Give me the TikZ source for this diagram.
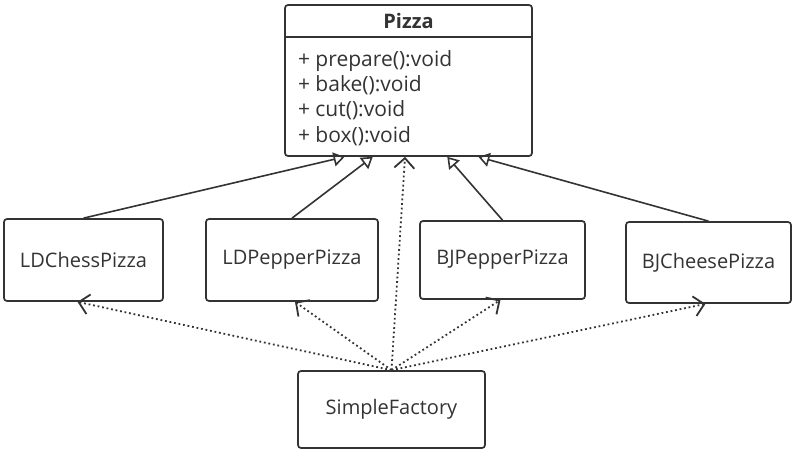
\documentclass[tikz,border=0pt]{standalone}
\usepackage{fontspec}
\setmainfont{Open Sans}
\usetikzlibrary{calc}
\usetikzlibrary{arrows.meta}

\begin{document}
\begin{tikzpicture}[x=1pt, y=-1pt,
  every node/.style={font=\fontsize{20}{25}\selectfont, text=black!80},
  box/.style={draw=black!80, line width=1.7pt, rounded corners=3pt, fill=white},
  inherit/.style={draw=black!80, line width=1.6pt, -{Triangle[open, length=11pt, width=14pt]}},
  depend/.style={draw=black!80, line width=1.8pt, dash pattern=on 1.8pt off 2.8pt, -{Straight Barb[length=10pt, width=20pt]}}]
\useasboundingbox (0,0) rectangle (798,457);

\node[box, minimum width=247pt, minimum height=151pt] (pizza) at (408.5,80.5) {};
\node[font=\fontsize{20}{25}\selectfont\bfseries] (title) at (408.5,21.5) {Pizza};
\draw[black!80, line width=1.7pt] ([yshift=-33pt]pizza.north west) -- ([yshift=-33pt]pizza.north east);
\node[anchor=west, align=left, font=\fontsize{21}{25.3}\selectfont] (ops) at (294.5,98) {+ prepare():void\\+ bake():void\\+ cut():void\\+ box():void};

\node[box, minimum width=159pt, minimum height=82pt] (ldChess) at (83.5,260) {LDChessPizza};
\node[box, minimum width=172pt, minimum height=82pt] (ldPepper) at (292,260) {LDPepperPizza};
\node[box, minimum width=165pt, minimum height=78pt] (bjPepper) at (502.5,260) {BJPepperPizza};
\node[box, minimum width=165pt, minimum height=81pt] (bjCheese) at (708.5,262.5) {BJCheesePizza};
\node[box, minimum width=187pt, minimum height=77pt] (factory) at (391.5,409.5) {SimpleFactory};

\foreach \sub/\pos in {ldChess/0.243, ldPepper/0.356, bjPepper/0.656, bjCheese/0.781}
  \draw[inherit] (\sub.north) -- ($(pizza.south west)!\pos!(pizza.south east)$);

\draw[depend] (factory.north) -- ($(pizza.south west)!0.486!(pizza.south east)$);
\foreach \sub/\dx in {ldChess/-6, ldPepper/3, bjPepper/-2, bjCheese/-3}
  \draw[depend] (factory.north) -- ([xshift=\dx pt]\sub.south);

\end{tikzpicture}
\end{document}
